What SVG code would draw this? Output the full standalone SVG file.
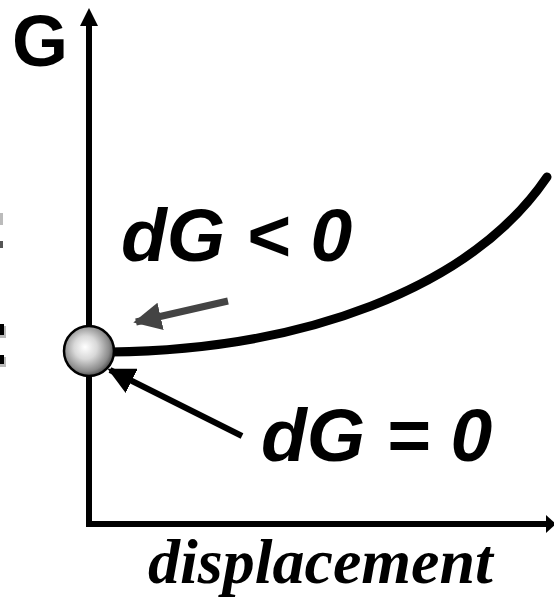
<svg xmlns="http://www.w3.org/2000/svg" width="554" height="604" viewBox="0 0 554 604">
<style>
.lbl{font-family:"Liberation Sans",Arial,sans-serif;font-weight:bold;font-style:italic;font-size:75px;fill:#000}
.ax{stroke:#000;stroke-width:6;fill:none}
</style>
<defs>
<radialGradient id="ballg" cx="0.45" cy="0.45" r="0.58" fx="0.42" fy="0.42">
<stop offset="0" stop-color="#ffffff"/>
<stop offset="0.4" stop-color="#d8d8d8"/>
<stop offset="0.8" stop-color="#8a8a8a"/>
<stop offset="1" stop-color="#404040"/>
</radialGradient>
<marker id="ahBlack" viewBox="0 0 10 10" refX="9" refY="5" markerWidth="4.5" markerHeight="4.5" orient="auto" markerUnits="strokeWidth">
<path d="M0,0 L10,5 L0,10 z" fill="#000"/>
</marker>
<marker id="ahGray" viewBox="0 0 10 10" refX="9" refY="5" markerWidth="4" markerHeight="4" orient="auto" markerUnits="strokeWidth">
<path d="M0,0 L10,5 L0,10 z" fill="#444"/>
</marker>
</defs>
<rect width="554" height="604" fill="#fff"/>
<g id="fragments">
<rect x="0" y="213" width="3" height="12" fill="#bbb"/>
<rect x="0" y="241" width="3" height="7" fill="#555"/>
<rect x="0" y="326" width="6" height="12" fill="#bbb"/>
<rect x="0" y="324" width="4" height="11" fill="#000"/>
<rect x="0" y="357" width="6" height="10" fill="#bbb"/>
<rect x="0" y="355" width="4" height="9" fill="#000"/>
</g>
<g id="axes">
<line class="ax" x1="89" y1="524" x2="89" y2="24"/>
<polygon points="89,8 80,26 98,26" fill="#000"/>
<line class="ax" x1="86" y1="524" x2="548" y2="524"/>
<polygon points="556,524 546,515 546,533" fill="#000"/>
</g>
<g id="curve">
<path d="M110,352 C300,350 470,290 547,177" fill="none" stroke="#000" stroke-width="9" stroke-linecap="round"/>
</g>
<g id="connectors">
<line x1="228" y1="301" x2="136" y2="322" stroke="#444" stroke-width="7" marker-end="url(#ahGray)"/>
<line x1="242" y1="436" x2="110" y2="370" stroke="#000" stroke-width="6" marker-end="url(#ahBlack)"/>
</g>
<g id="ball">
<circle cx="89" cy="351" r="25" fill="url(#ballg)" stroke="#000" stroke-width="2.5"/>
</g>
<g id="label-G">
<text x="12" y="66" font-family="Liberation Sans,Arial,sans-serif" font-weight="bold" font-size="72">G</text>
</g>
<g id="label-dGlt0">
<text class="lbl" x="121" y="261">dG &lt; 0</text>
</g>
<g id="label-dGeq0">
<text class="lbl" x="261" y="461">dG = 0</text>
</g>
<g id="label-displacement">
<text x="148" y="583" font-family="Liberation Serif,'Times New Roman',serif" font-weight="bold" font-style="italic" font-size="64">displacement</text>
</g>
</svg>
